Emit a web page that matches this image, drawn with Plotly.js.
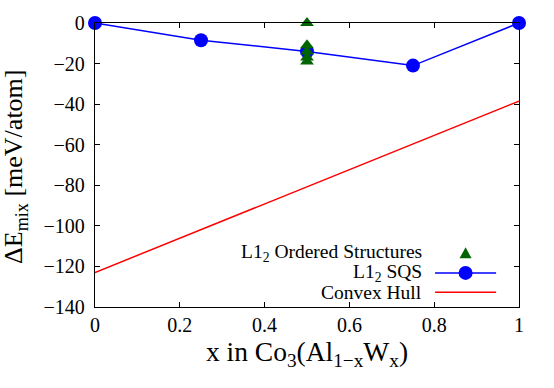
<!DOCTYPE html>
<html>
<head>
<meta charset="utf-8">
<script src="https://cdn.plot.ly/plotly-3.0.1.min.js"></script>
<style>
  html, body { margin: 0; padding: 0; background: #fff; }
  #chart { width: 554px; height: 388px; }
</style>
</head>
<body>
<div id="chart"></div>
<script>
// ordered L1_2 structures, all at x = 0.5
var orderedX = [0.5, 0.5, 0.5, 0.5, 0.5];
var orderedY = [0, -11, -14, -17, -19];

// SQS
var sqsX = [0, 0.25, 0.5, 0.75, 1];
var sqsY = [0, -8.5, -14, -21, 0];

// convex hull
var hullX = [0, 1];
var hullY = [-123, -38.5];

var xTicks = [0, 0.2, 0.4, 0.6, 0.8, 1];
var xTickText = ['0', '0.2', '0.4', '0.6', '0.8', '1'];
var yTicks = [-140, -120, -100, -80, -60, -40, -20, 0];

var serif = 'Liberation Serif';

var traces = [
  {
    x: hullX, y: hullY, type: 'scatter', mode: 'lines',
    line: { color: '#ff0000', width: 1.5 },
    name: 'Convex Hull'
  },
  {
    x: sqsX, y: sqsY, type: 'scatter', mode: 'lines+markers',
    line: { color: '#0000ff', width: 1.5 },
    marker: { color: '#0000ff', size: 14, symbol: 'circle' },
    cliponaxis: false,
    name: 'L1<sub>2</sub> SQS'
  },
  {
    x: orderedX, y: orderedY, type: 'scatter', mode: 'markers',
    marker: { color: '#006400', size: 12, symbol: 'triangle-up' },
    cliponaxis: false,
    name: 'L1<sub>2</sub> Ordered Structures'
  }
];

// hand made legend (gnuplot style: text right, sample left)
var rows = [
  { y: 0.189, text: 'L1<sub>2</sub> Ordered Structures' },
  { y: 0.120, text: 'L1<sub>2</sub> SQS' },
  { y: 0.052, text: 'Convex Hull' }
];
var annotations = rows.map(function(r) {
  return {
    xref: 'paper', yref: 'paper', x: 0.775, y: r.y,
    xanchor: 'right', yanchor: 'middle', showarrow: false,
    text: r.text, font: { family: serif, size: 19.5, color: '#000' }
  };
});

// y title as annotation so it can sit near the page edge
annotations.push({
  xref: 'paper', yref: 'paper', x: -0.187, y: 0.492,
  xanchor: 'center', yanchor: 'middle', showarrow: false, textangle: -90,
  text: '\u0394E<sub>mix</sub> [meV/atom]', font: { family: serif, size: 26, color: '#000' }
});

var shapes = [
  { type: 'line', xref: 'paper', yref: 'paper', x0: 0.802, x1: 0.946, y0: 0.120, y1: 0.120,
    line: { color: '#0000ff', width: 1.5 } },
  { type: 'circle', xref: 'paper', yref: 'paper', xsizemode: 'pixel', ysizemode: 'pixel',
    xanchor: 0.874, yanchor: 0.120, x0: -7, x1: 7, y0: -7, y1: 7,
    fillcolor: '#0000ff', line: { width: 0 } },
  { type: 'path', xref: 'paper', yref: 'paper', xsizemode: 'pixel', ysizemode: 'pixel',
    xanchor: 0.874, yanchor: 0.189, path: 'M -6 -5 L 6 -5 L 0 6 Z',
    fillcolor: '#006400', line: { width: 0 } },
  { type: 'line', xref: 'paper', yref: 'paper', x0: 0.802, x1: 0.946, y0: 0.052, y1: 0.052,
    line: { color: '#ff0000', width: 1.5 } }
];

var layout = {
  width: 554, height: 388,
  margin: { l: 94.5, r: 35, t: 23, b: 81 },
  paper_bgcolor: '#fff', plot_bgcolor: '#fff',
  showlegend: false,
  font: { family: serif, size: 20, color: '#000' },
  xaxis: {
    range: [0, 1], tickvals: xTicks, ticktext: xTickText,
    ticks: 'inside', ticklen: 5, tickwidth: 1, tickcolor: '#000',
    showline: true, linecolor: '#000', linewidth: 1.2, mirror: 'ticks',
    showgrid: false, zeroline: false,
    tickfont: { family: serif, size: 20 },
    title: { text: 'x in Co<sub>3</sub>(Al<sub>1\u2212x</sub>W<sub>x</sub>)', font: { family: serif, size: 27.5 }, standoff: 4 }
  },
  yaxis: {
    range: [-140, 0], tickvals: yTicks,
    ticks: 'inside', ticklen: 5, tickwidth: 1, tickcolor: '#000',
    showline: true, linecolor: '#000', linewidth: 1.2, mirror: 'ticks',
    showgrid: false, zeroline: false, ticklabelstandoff: 5,
    tickfont: { family: serif, size: 20 }
  },
  annotations: annotations,
  shapes: shapes
};

Plotly.newPlot('chart', traces, layout, { displayModeBar: false, staticPlot: true });
</script>
</body>
</html>
